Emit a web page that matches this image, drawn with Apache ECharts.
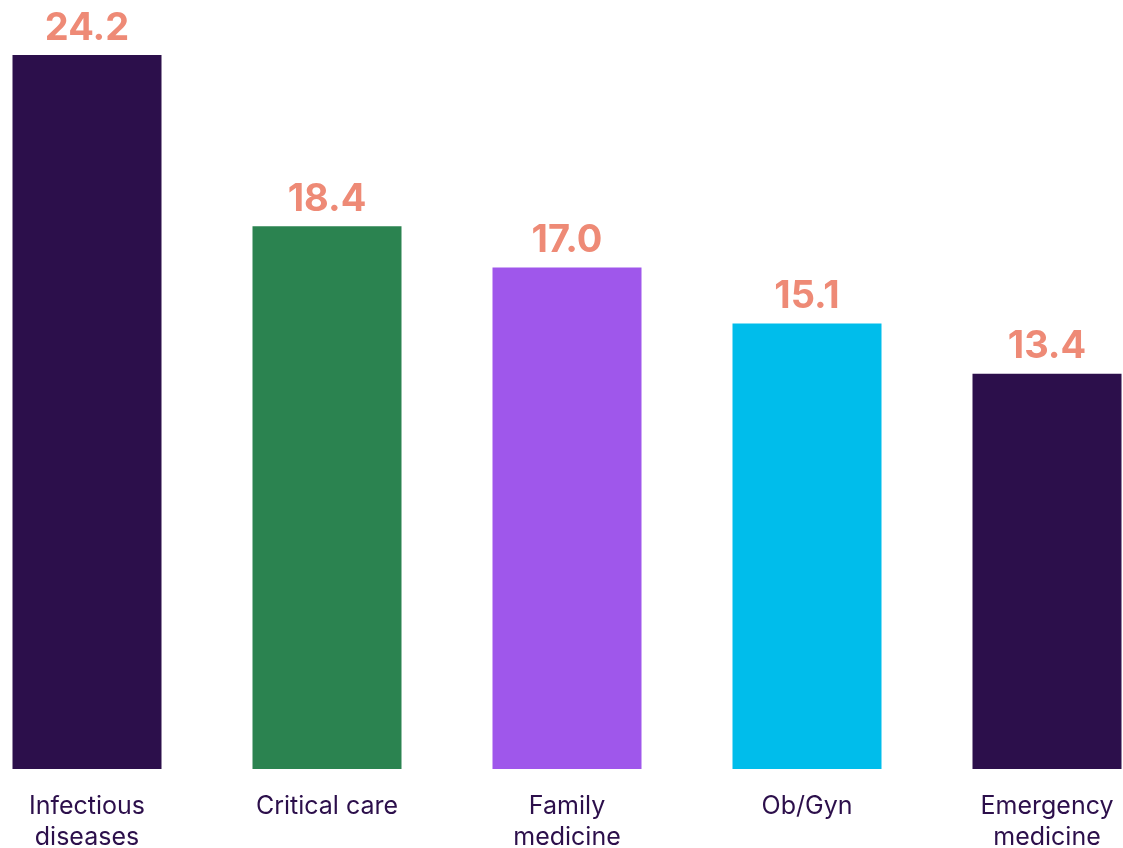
<!DOCTYPE html>
<html>
<head>
<meta charset="utf-8">
<script src="https://cdn.jsdelivr.net/npm/echarts@6/dist/echarts.min.js"></script>
<style>
html, body { margin: 0; padding: 0; background: #ffffff; overflow: hidden; }
#chart { width: 1123px; height: 848px; }
</style>
</head>
<body>
<div id="chart"></div>
<script>
// 数据
const categories = ['Infectious\ndiseases', 'Critical care', 'Family\nmedicine', 'Ob/Gyn', 'Emergency\nmedicine'];
const values = [24.2, 18.4, 17.0, 15.1, 13.4];
const barColors = ['#2C0F4B', '#2B8350', '#9F57EB', '#00BDEB', '#2C0F4B'];

const chart = echarts.init(document.getElementById('chart'));

const option = {
  animation: false,
  grid: {
    left: -33,
    width: 1200,
    top: 2,
    bottom: 79,
    containLabel: false,
    outerBoundsMode: 'none'
  },
  xAxis: {
    type: 'category',
    data: categories,
    axisLine: { show: false },
    axisTick: { show: false },
    axisLabel: {
      interval: 0,
      margin: 22,
      fontFamily: 'Inter',
      fontSize: 25,
      lineHeight: 31,
      color: '#2C0F4B',
      verticalAlign: 'top'
    }
  },
  yAxis: {
    type: 'value',
    min: 0,
    max: 26,
    show: false,
    splitLine: { show: false }
  },
  series: [{
    type: 'bar',
    barWidth: 149,
    data: values.map((v, i) => ({ value: v, itemStyle: { color: barColors[i] } })),
    label: {
      show: true,
      position: 'top',
      distance: 8,
      formatter: p => p.value.toFixed(1),
      fontFamily: 'Inter',
      fontWeight: 'bold',
      fontSize: 38,
      color: '#EE8A76'
    }
  }]
};

chart.setOption(option);
</script>
</body>
</html>
